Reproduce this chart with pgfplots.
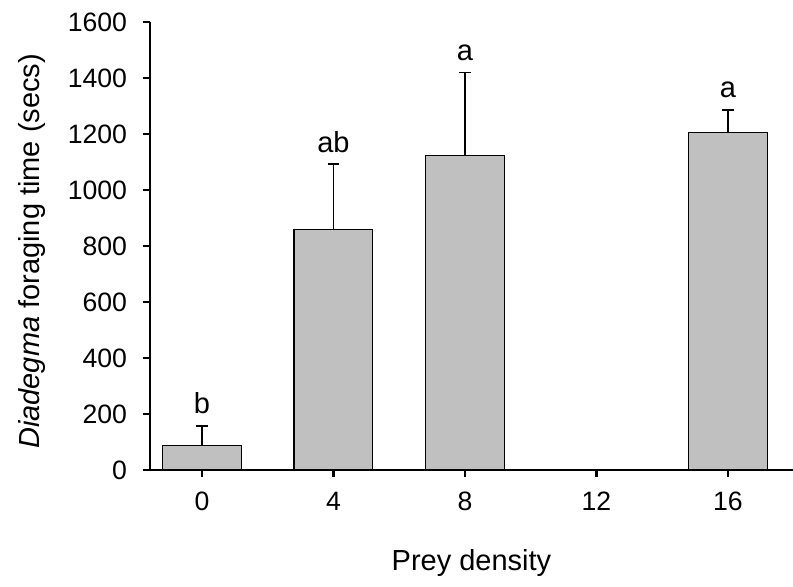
\documentclass[border=0pt]{standalone}
\usepackage{fontspec}
\setmainfont{Liberation Sans}
\usepackage{pgfplots}
\pgfplotsset{compat=1.18}

\definecolor{barfill}{RGB}{192,192,192}

\begin{document}
\begin{tikzpicture}
\useasboundingbox (-75pt,-58pt) rectangle (321.5pt,235pt);
\begin{axis}[
  scale only axis,
  width=321.5pt, height=224pt,
  at={(0,0)}, anchor=south west,
  xmin=-1.58, xmax=17.98,
  ymin=0, ymax=1600,
  axis lines=left,
  axis line style={-, line width=1.3pt},
  xtick={0,4,8,12,16},
  ytick={0,200,...,1600},
  tick align=outside,
  major tick length=3.5pt,
  tick style={line width=1.1pt, black},
  /pgf/number format/assume math mode=true,
  /pgf/number format/1000 sep={},
  ticklabel style={font=\fontsize{13.3}{15}\selectfont},
  yticklabel style={xshift=-4.5pt},
  xticklabel style={yshift=-4pt},
  xlabel={Prey density},
  ylabel={\textit{Diadegma} foraging time (secs)},
  label style={font=\fontsize{14.5}{17}\selectfont},
  xlabel style={at={(axis description cs:0.5,-0.2254)}, anchor=base},
  ylabel style={at={(axis description cs:-0.1726,0.488)}, anchor=base},
  clip=false,
]
\addplot[
  ybar, bar width=2.4, fill=barfill, draw=black, line width=0.6pt,
  error bars/.cd, y dir=plus, y explicit,
  error bar style={line width=0.8pt, black},
  error mark options={rotate=90, mark size=2.9pt, line width=0.8pt, black},
] table[x=x, y=y, y error=e] {
x   y     e
0   87    71
4   860   232
8   1124  295
16  1206  80
};
\begin{scope}[every node/.style={anchor=base, yshift=6pt, font=\fontsize{14.5}{17}\selectfont, inner sep=0pt}]
\node at (axis cs:0,158) {b};
\node at (axis cs:4,1092) {ab};
\node at (axis cs:8,1419) {a};
\node at (axis cs:16,1286) {a};
\end{scope}
\end{axis}
\end{tikzpicture}
\end{document}
